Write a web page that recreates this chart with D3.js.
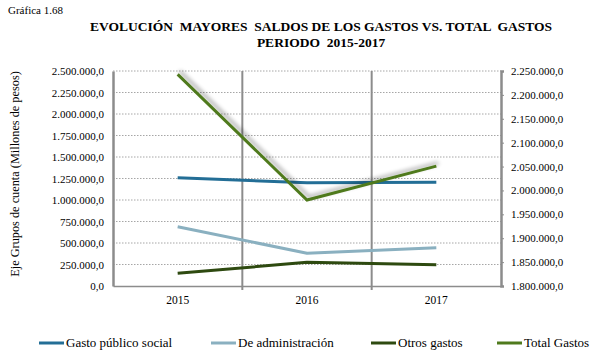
<!DOCTYPE html>
<html><head><meta charset="utf-8">
<script src="https://cdn.jsdelivr.net/npm/d3@7"></script>
<style>body{margin:0;background:#fff;}</style></head>
<body><svg id="c" width="592" height="352" style="font-family:'Liberation Serif'"></svg>
<script>
const years = ["2015","2016","2017"];
const gastoSocial = [1259000, 1201000, 1206000];
const administracion = [690000, 380000, 446000];
const otrosGastos = [147000, 275000, 248000];
const totalGastos = [2243000, 1980000, 2051000];
const leftTicks = [0,250000,500000,750000,1000000,1250000,1500000,1750000,2000000,2250000,2500000];
const rightTicks = [1800000,1850000,1900000,1950000,2000000,2050000,2100000,2150000,2200000,2250000];
const seriesNames = ["Gasto público social","De administración","Otros gastos","Total Gastos"];
const seriesColors = ["#236E96","#8AB0C0","#2E4A10","#4F7A1D"];

const FF = '"Liberation Serif", "Times New Roman", serif';
const svg = d3.select("#c");
const L = 113, R = 501, T = 71, B = 286;
const fmt = v => Math.round(v).toString().replace(/\B(?=(\d{3})+(?!\d))/g, ".") + ",0";
const x = d3.scaleBand().domain(years).range([L, R]);
const yL = d3.scaleLinear().domain([0, 2500000]).range([B, T]);
const yR = d3.scaleLinear().domain([1800000, 2250000]).range([B, T]);

const defs = svg.append("defs");
const f = defs.append("filter").attr("id","sh").attr("x","-20%").attr("y","-20%").attr("width","140%").attr("height","140%");
f.append("feGaussianBlur").attr("in","SourceAlpha").attr("stdDeviation",2).attr("result","b");
f.append("feOffset").attr("in","b").attr("dx",2).attr("dy",-3).attr("result","o");
f.append("feComponentTransfer").attr("in","o").attr("result","o2")
  .append("feFuncA").attr("type","linear").attr("slope",0.35);
const m = f.append("feMerge");
m.append("feMergeNode").attr("in","o2");
m.append("feMergeNode").attr("in","SourceGraphic");

// Titles
svg.append("text").attr("x",8).attr("y",14).style("font-size","11px").text("Gráfica 1.68");
svg.append("text").attr("x",321).attr("y",31).attr("text-anchor","middle").style("font-size","13.5px").style("font-weight","bold")
  .style("white-space","pre").text("EVOLUCIÓN  MAYORES  SALDOS DE LOS GASTOS VS. TOTAL  GASTOS");
svg.append("text").attr("x",321).attr("y",47).attr("text-anchor","middle").style("font-size","13.5px").style("font-weight","bold")
  .style("white-space","pre").text("PERIODO  2015-2017");

// Gridlines
svg.append("g").selectAll("line").data(leftTicks.slice(1)).join("line")
  .attr("x1",L).attr("x2",R).attr("y1",d=>yL(d)).attr("y2",d=>yL(d))
  .attr("stroke","#a6a6a6").attr("stroke-width",1).attr("stroke-dasharray","1.5,1.5");

// Category separators
svg.append("g").selectAll("line").data(years.slice(1)).join("line")
  .attr("x1",d=>x(d)).attr("x2",d=>x(d)).attr("y1",T).attr("y2",B+4)
  .attr("stroke","#8c8c8c").attr("stroke-width",2);

// Left axis
const gl = svg.append("g").attr("transform",`translate(${L},0)`)
  .call(d3.axisLeft(yL).tickValues(leftTicks).tickFormat(fmt).tickSize(0).tickPadding(9));
gl.attr("font-family",null);
gl.select(".domain").attr("stroke","#8c8c8c").attr("stroke-width",2.5);
gl.selectAll("text").style("font-size","11px");

// Right axis
const gr = svg.append("g").attr("transform",`translate(${R},0)`)
  .call(d3.axisRight(yR).tickValues(rightTicks).tickFormat(fmt).tickSize(3).tickPadding(7));
gr.attr("font-family",null);
gr.select(".domain").attr("stroke","#8c8c8c").attr("stroke-width",2.5);
gr.selectAll(".tick line").attr("stroke","#8c8c8c");
gr.selectAll("text").style("font-size","11px");

// Bottom axis
const gb = svg.append("g").attr("transform",`translate(0,${B})`)
  .call(d3.axisBottom(x).tickSize(0).tickPadding(10));
gb.attr("font-family",null);
gb.select(".domain").attr("stroke","#8c8c8c").attr("stroke-width",1.5);
gb.selectAll("text").style("font-size","11.5px");

// Y axis title
svg.append("text").attr("transform","translate(19,174) rotate(-90)").attr("text-anchor","middle")
  .style("font-size","12.3px").text("Eje Grupos de cuenta (Millones de pesos)");

// Lines
const cx = d => x(d) + x.bandwidth()/2;
[gastoSocial, administracion, otrosGastos].forEach((vals,i)=>{
  const line = d3.line().x((d,j)=>cx(years[j])).y(d=>yL(d));
  svg.append("path").datum(vals).attr("d",line).attr("fill","none")
    .attr("stroke",seriesColors[i]).attr("stroke-width",3).attr("stroke-linejoin","round");
});
const lineR = d3.line().x((d,j)=>cx(years[j])).y(d=>yR(d));
svg.append("path").datum(totalGastos).attr("d",lineR).attr("fill","none")
  .attr("stroke",seriesColors[3]).attr("stroke-width",3).attr("filter","url(#sh)");

// Legend
const legX = [39, 211, 371, 497];
const lg = svg.append("g");
seriesNames.forEach((n,i)=>{
  lg.append("line").attr("x1",legX[i]).attr("x2",legX[i]+25).attr("y1",343).attr("y2",343)
    .attr("stroke",seriesColors[i]).attr("stroke-width",3);
  lg.append("text").attr("x",legX[i]+27).attr("y",347).style("font-size","13px").text(n);
});
svg.selectAll("text").style("font-family",FF).style("fill","#000");
</script></body></html>
